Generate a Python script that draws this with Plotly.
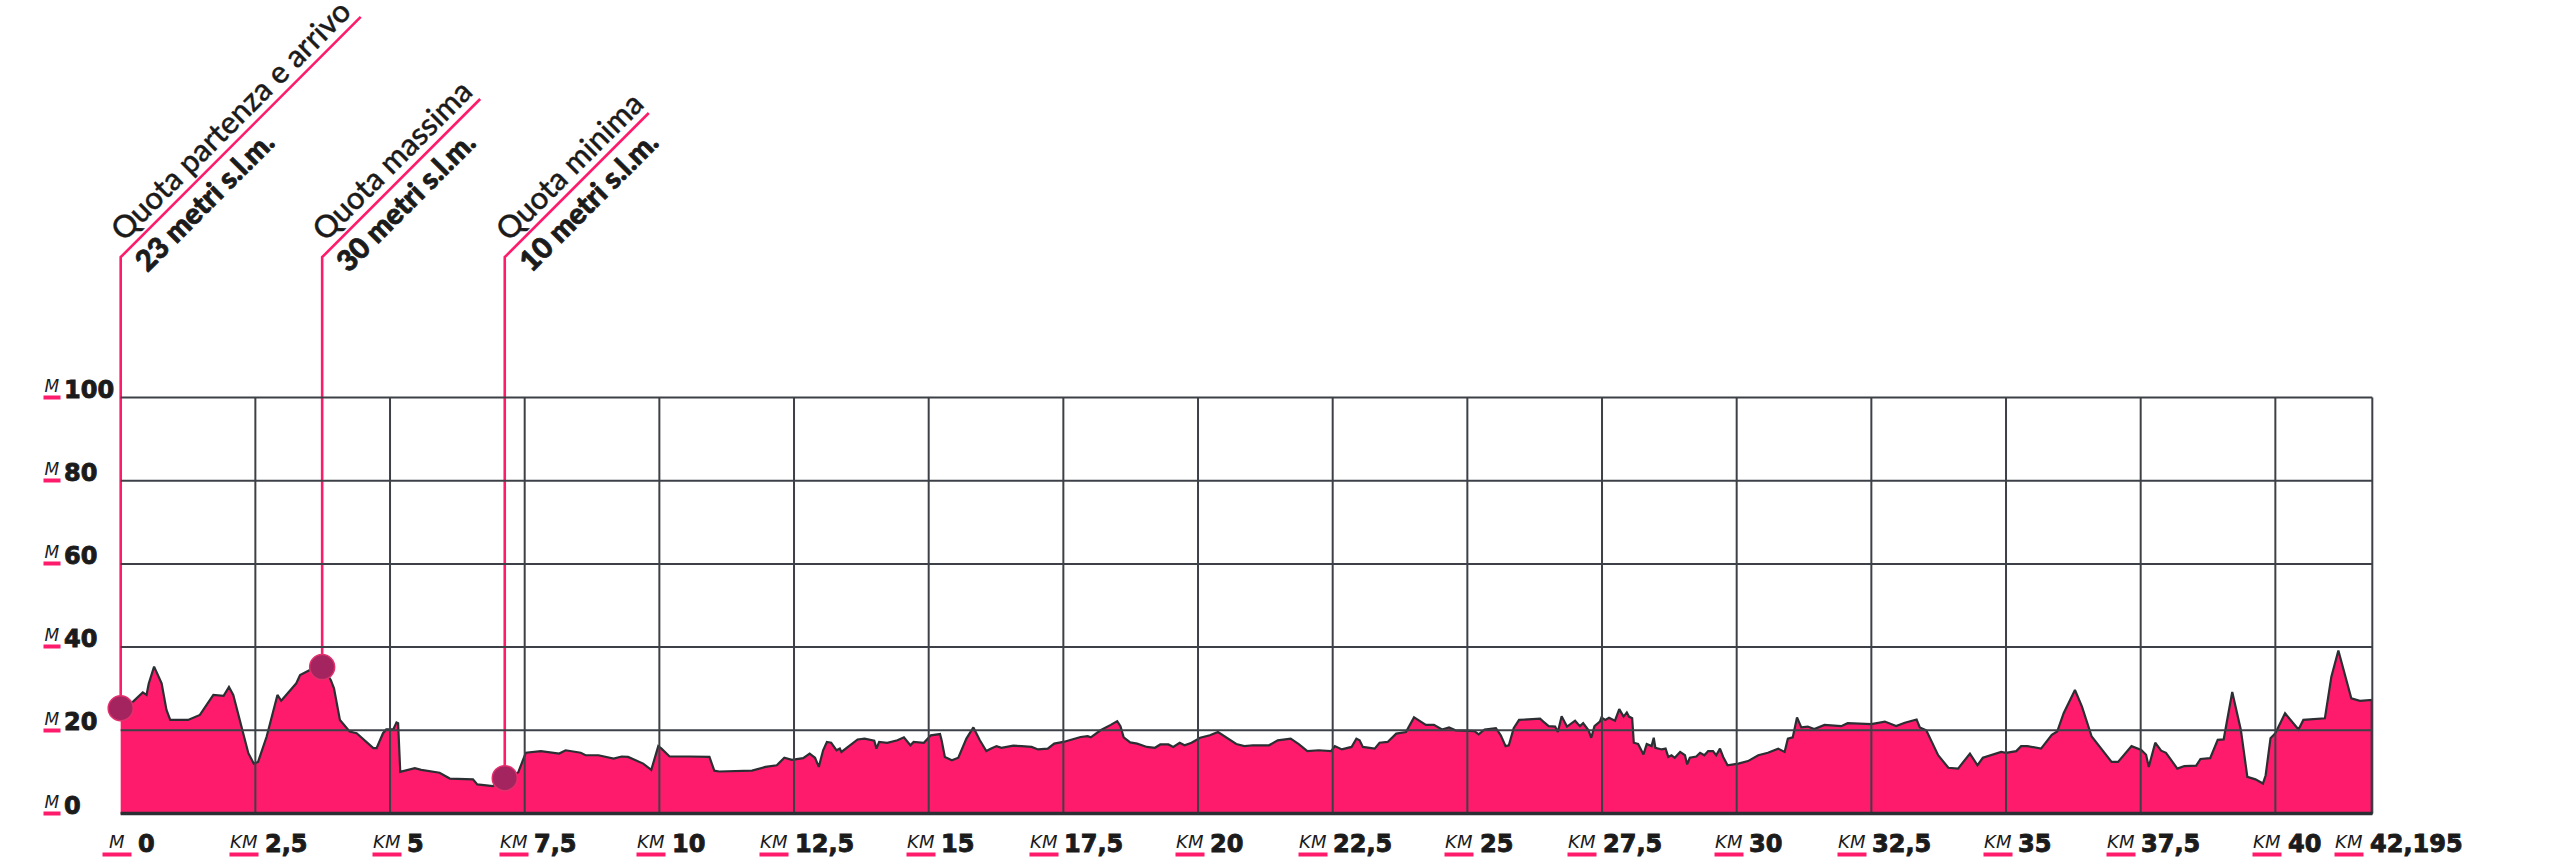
import plotly.graph_objects as go

# ---------------- data ----------------
KM = [0.00, 0.23, 0.41, 0.48, 0.52, 0.62, 0.76, 0.85, 0.92, 1.25, 1.47, 1.72, 1.91, 2.01, 2.09, 2.21,
      2.37, 2.47, 2.55, 2.71, 2.91, 2.98, 3.26, 3.33, 3.51, 3.74, 3.90, 3.96, 4.07, 4.25, 4.38, 4.69,
      4.75, 4.87, 4.93, 5.06, 5.12, 5.15, 5.19, 5.46, 5.58, 5.92, 6.11, 6.54, 6.62, 6.91, 7.14, 7.38,
      7.52, 7.80, 8.14, 8.26, 8.54, 8.63, 8.87, 9.15, 9.30, 9.42, 9.70, 9.85, 9.94, 9.98, 10.04, 10.19,
      10.56, 10.93, 11.02, 11.11, 11.72, 11.97, 12.18, 12.32, 12.46, 12.67, 12.79, 12.89, 12.96, 13.04,
      13.11, 13.19, 13.29, 13.35, 13.38, 13.50, 13.68, 13.81, 13.99, 14.03, 14.08, 14.23, 14.42, 14.54,
      14.66, 14.72, 14.91, 15.04, 15.21, 15.24, 15.30, 15.43, 15.55, 15.70, 15.83, 15.95, 16.07, 16.16,
      16.26, 16.35, 16.57, 16.72, 16.91, 17.03, 17.21, 17.33, 17.50, 17.82, 17.95, 18.01, 18.10, 18.19,
      18.38, 18.50, 18.56, 18.62, 18.74, 18.87, 19.05, 19.20, 19.30, 19.45, 19.54, 19.66, 19.75, 19.88,
      20.04, 20.22, 20.37, 20.52, 20.71, 20.86, 21.02, 21.32, 21.48, 21.72, 21.87, 22.03, 22.24, 22.47,
      22.54, 22.67, 22.85, 22.94, 23.00, 23.06, 23.28, 23.37, 23.52, 23.68, 23.86, 24.01, 24.23, 24.38,
      24.53, 24.66, 24.78, 25.13, 25.21, 25.32, 25.53, 25.62, 25.71, 25.77, 25.86, 25.96, 26.35, 26.41,
      26.51, 26.63, 26.68, 26.75, 26.85, 27.00, 27.09, 27.15, 27.25, 27.30, 27.36, 27.46, 27.49, 27.56,
      27.63, 27.74, 27.82, 27.90, 27.96, 28.00, 28.06, 28.09, 28.17, 28.27, 28.33, 28.42, 28.46, 28.49,
      28.61, 28.68, 28.73, 28.79, 28.85, 28.95, 29.04, 29.08, 29.13, 29.25, 29.32, 29.40, 29.47, 29.56,
      29.62, 29.69, 29.75, 29.83, 30.03, 30.21, 30.40, 30.58, 30.77, 30.89, 30.95, 31.04, 31.12, 31.20,
      31.32, 31.44, 31.63, 31.94, 32.06, 32.50, 32.75, 32.96, 33.12, 33.34, 33.40, 33.52, 33.74, 33.93,
      34.11, 34.33, 34.47, 34.57, 34.91, 35.00, 35.19, 35.28, 35.40, 35.65, 35.85, 35.95, 36.07, 36.28,
      36.41, 36.59, 36.78, 36.96, 37.08, 37.33, 37.51, 37.60, 37.65, 37.77, 37.88, 37.97, 38.18, 38.31,
      38.53, 38.61, 38.79, 38.93, 39.04, 39.20, 39.36, 39.48, 39.63, 39.77, 39.82, 39.91, 40.00, 40.18,
      40.43, 40.52, 40.92, 41.04, 41.17, 41.35, 41.41, 41.57, 41.79]
ELEV = [25.0, 26.9, 29.1, 28.5, 31.2, 35.3, 31.3, 24.9, 22.5, 22.5, 23.7, 28.5, 28.3, 30.4, 28.5, 22.5,
        14.5, 12.0, 12.4, 18.5, 28.5, 27.1, 31.3, 33.3, 34.5, 35.2, 32.1, 30.1, 22.5, 19.7, 19.3, 15.7,
        15.7, 19.3, 20.2, 20.2, 21.9, 21.7, 10.0, 10.9, 10.5, 9.8, 8.4, 8.2, 7.0, 6.6, 8.0, 9.9,
        14.6, 15.0, 14.4, 15.2, 14.6, 14.0, 14.0, 13.2, 13.7, 13.6, 12.0, 10.5, 14.8, 16.2, 15.6, 13.7,
        13.7, 13.6, 10.3, 10.1, 10.3, 11.2, 11.6, 13.4, 12.9, 13.3, 14.4, 13.4, 11.2, 15.2,
        17.2, 17.0, 15.2, 15.6, 14.8, 16.0, 17.8, 18.0, 17.5, 15.6, 17.2, 17.0, 17.6, 18.3,
        16.4, 17.2, 17.0, 18.8, 19.1, 17.6, 13.6, 12.8, 13.4, 18.0, 20.7, 17.6, 15.0, 15.6,
        16.2, 15.8, 16.3, 16.2, 16.0, 15.4, 15.6, 16.8, 17.2, 18.4, 18.6, 18.3, 19.1, 20.0,
        21.3, 22.2, 21.0, 18.3, 17.1, 16.8, 16.0, 15.8, 16.6, 16.6, 16.0, 17.0, 16.4, 17.0,
        18.2, 18.8, 19.6, 18.3, 16.7, 16.2, 16.4, 16.4, 17.6, 18.0, 16.7, 15.0, 15.2, 15.0,
        16.2, 15.4, 16.0, 18.0, 17.6, 16.0, 15.6, 17.0, 17.2, 19.2, 19.6, 23.1, 21.3, 21.3,
        20.2, 20.7, 20.0, 19.8, 19.0, 20.2, 20.5, 18.8, 16.2, 16.4, 20.5, 22.5, 22.8, 22.1,
        21.0, 20.9, 19.6, 23.4, 20.9, 22.3, 21.0, 21.7, 20.0, 18.2, 21.0, 22.1, 23.1, 22.5,
        23.0, 22.3, 25.1, 23.3, 24.3, 23.3, 22.9, 17.0, 16.7, 14.2, 16.7, 16.2, 18.2, 15.8,
        15.4, 15.6, 13.6, 14.0, 13.4, 14.8, 14.0, 11.8, 13.4, 13.7, 14.6, 14.0, 15.0, 15.0,
        14.0, 15.6, 13.6, 11.6, 12.0, 12.6, 14.0, 14.6, 15.6, 14.8, 18.0, 18.3, 23.1, 20.7,
        20.9, 20.3, 21.3, 21.0, 21.7, 21.5, 22.1, 21.0, 21.8, 22.6, 20.7, 20.0, 14.0, 11.0,
        10.8, 14.4, 11.6, 13.4, 14.8, 14.6, 15.0, 16.2, 16.2, 15.6, 18.9, 19.7, 24.1, 29.7,
        25.7, 18.5, 15.3, 12.4, 12.4, 16.2, 15.3, 14.1, 11.2, 17.0, 15.1, 14.6, 10.8, 11.4,
        11.5, 13.1, 13.3, 17.7, 17.8, 29.2, 20.1, 8.8, 8.2, 7.2, 9.2, 18.1, 19.3, 24.1,
        20.2, 22.5, 22.9, 32.9, 39.2, 30.1, 27.7, 27.1, 27.3]

DOT_KM = [0.0, 3.74, 7.13]
DOT_ELEV = [25.3, 35.2, 8.5]
CALLOUT_TITLE = ["Quota partenza e arrivo", "Quota massima", "Quota minima"]
CALLOUT_VALUE = ["23 metri s.l.m.", "30 metri s.l.m.", "10 metri s.l.m."]

X_TICKS = [0, 2.5, 5, 7.5, 10, 12.5, 15, 17.5, 20, 22.5, 25, 27.5, 30, 32.5, 35, 37.5, 40, 41.8]
X_TICK_TEXT = ["0", "2,5", "5", "7,5", "10", "12,5", "15", "17,5", "20", "22,5", "25", "27,5",
               "30", "32,5", "35", "37,5", "40", "42,195"]
X_TICK_UNIT = ["M"] + ["KM"] * 17
Y_TICKS = [0, 20, 40, 60, 80, 100]
Y_TICK_TEXT = ["0", "20", "40", "60", "80", "100"]
Y_TICK_UNIT = "M"

# ---------------- style / layout ----------------
W, H = 2560, 864
PINK = "#ff1b6b"
DOT = "#a3245f"
DARK = "#2b2f33"
GRID = "#3d4147"
TXT = "#1b1b1b"
NUMFONT = "DejaVu Sans"
UNITFONT = "DejaVu Sans"
CALLFONT = "Lato"
NUMSIZE = 24
UNITSIZE_Y = 17
UNITSIZE_X = 18
DESC_NUM = 0.236 * NUMSIZE


def heavy(s, w):
    return f'<span style="stroke:{TXT};stroke-width:{w}px">{s}</span>'


X_END = X_TICKS[-1]
Y_END = Y_TICKS[-1]
PL, PR = 121.0, 2372.3      # pixel of x=0 / x=end
PB, PT = 813.3, 397.7       # pixel of y=0 / y=100
PADX, PADY = 0.05, 0.6
sx = (PR - PL) / X_END
sy = (PB - PT) / Y_END
ml = PL - PADX * sx
mr = W - (PR + PADX * sx)
mt = PT - PADY * sy
mb = H - (PB + PADY * sy)
pw = W - ml - mr
ph = H - mt - mb
xr = [-PADX, X_END + PADX]
yr = [-PADY, Y_END + PADY]


def xpap(v):
    return (v - xr[0]) / (xr[1] - xr[0])


def ypap(v):
    return (v - yr[0]) / (yr[1] - yr[0])


def ypix2pap(py):
    return ((H - mb) - py) / ph


fig = go.Figure()

# profile (closed polygon down to 0)
fig.add_trace(go.Scatter(
    x=KM + [KM[-1], KM[0]], y=ELEV + [0, 0],
    mode="lines", fill="toself", fillcolor=PINK,
    line=dict(color=DARK, width=2.2), hoverinfo="skip", showlegend=False))

# dots
fig.add_trace(go.Scatter(
    x=DOT_KM, y=DOT_ELEV, mode="markers",
    marker=dict(size=25, color=DOT, line=dict(color="#e2306d", width=1.5)),
    cliponaxis=False, hoverinfo="skip", showlegend=False))

shapes = []
for t in X_TICKS[1:]:
    shapes.append(dict(type="line", xref="x", yref="y", x0=t, x1=t, y0=0, y1=Y_END,
                       line=dict(color=GRID, width=2), layer="above"))
for v in Y_TICKS[1:]:
    shapes.append(dict(type="line", xref="x", yref="y", x0=0, x1=X_END, y0=v, y1=v,
                       line=dict(color=GRID, width=2), layer="above"))
shapes.append(dict(type="line", xref="x", yref="y", x0=0, x1=X_END, y0=0, y1=0,
                   line=dict(color=DARK, width=3.5), layer="above"))

# callouts
CORNER_PY = 257.5
DIAG = [240, 158, 144]
T1, T2 = 31, 29                      # title / value font sizes (Lato)
CAP, DESC, LH = 0.7165, 0.213, 1.2   # Lato metrics
R2 = 0.7071
yc = ypix2pap(CORNER_PY)
s1x, s1y = -13.7 + CAP * T1 * R2, -13.2      # baseline start of title, rel. to corner
s2x, s2y = 10.7 + CAP * T2 * R2, 17.5        # baseline start of value, rel. to corner
t1_xs = s1x + DESC * T1 * R2 - LH * T1 * R2
t1_ys = -(s1y + DESC * T1 * R2)
t2_xs = s2x + DESC * T2 * R2 - LH * T2 * R2
t2_ys = -(s2y + DESC * T2 * R2)
annotations = []
for i in range(len(DOT_KM)):
    xd = xpap(DOT_KM[i])
    yd = ypap(DOT_ELEV[i])
    d = DIAG[i]
    path = f"M {xd},{yd} L {xd},{yc} L {xd + d / pw},{yc + d / ph}"
    shapes.append(dict(type="path", xref="paper", yref="paper", path=path,
                       line=dict(color=PINK, width=2.6), layer="between"))
    annotations.append(dict(
        xref="paper", yref="paper", x=xd, y=yc, text=heavy(CALLOUT_TITLE[i], 0.35),
        showarrow=False, textangle=-45, xanchor="left", yanchor="bottom",
        xshift=t1_xs, yshift=t1_ys, borderpad=0,
        font=dict(family=CALLFONT, size=T1, color=TXT, weight=500)))
    annotations.append(dict(
        xref="paper", yref="paper", x=xd, y=yc, text=heavy(CALLOUT_VALUE[i], 0.8),
        showarrow=False, textangle=-45, xanchor="left", yanchor="bottom",
        xshift=t2_xs, yshift=t2_ys, borderpad=0,
        font=dict(family=CALLFONT, size=T2, color=TXT, weight=900)))

# y tick labels
for v, txt in zip(Y_TICKS, Y_TICK_TEXT):
    annotations.append(dict(x=0, y=v, xref="x", yref="y", text=Y_TICK_UNIT, showarrow=False,
                            xanchor="left", yanchor="bottom", xshift=43.3 - PL, yshift=0.8,
                            width=16, align="center", borderpad=0,
                            font=dict(family=UNITFONT, size=UNITSIZE_Y, color=TXT, style="italic")))
    annotations.append(dict(x=0, y=v, xref="x", yref="y", text=" ", showarrow=False,
                            xanchor="left", yanchor="middle", xshift=43.3 - PL, yshift=0.3,
                            width=16, height=3, bgcolor=PINK, borderpad=0, font=dict(size=1)))
    annotations.append(dict(x=0, y=v, xref="x", yref="y", text=heavy(txt, 0.9), showarrow=False,
                            xanchor="left", yanchor="bottom", xshift=63 - PL,
                            yshift=-(1.5 + DESC_NUM), borderpad=0,
                            font=dict(family=NUMFONT, size=NUMSIZE, color=TXT, weight=700)))

# x tick labels
for t, txt, unit in zip(X_TICKS, X_TICK_TEXT, X_TICK_UNIT):
    w_est = 16.5 * sum(c.isdigit() for c in txt) + 6 * txt.count(",")
    n = min(16, max(-3.5, 28.8 - 0.525 * w_est))
    annotations.append(dict(x=t, y=0, xref="x", yref="y", text=heavy(txt, 0.9), showarrow=False,
                            xanchor="left", yanchor="bottom", xshift=n,
                            yshift=-(39.7 + DESC_NUM), borderpad=0,
                            font=dict(family=NUMFONT, size=NUMSIZE, color=TXT, weight=700)))
    annotations.append(dict(x=t, y=0, xref="x", yref="y", text=unit, showarrow=False,
                            xanchor="right", yanchor="bottom", xshift=n - 4.5,
                            yshift=-(35.7 + 0.236 * UNITSIZE_X),
                            width=28, align="center", borderpad=0,
                            font=dict(family=UNITFONT, size=UNITSIZE_X, color=TXT, style="italic")))
    annotations.append(dict(x=t, y=0, xref="x", yref="y", text=" ", showarrow=False,
                            xanchor="right", yanchor="middle", xshift=n - 4.5, yshift=-40.5,
                            width=28, height=3, bgcolor=PINK, borderpad=0, font=dict(size=1)))

fig.update_layout(
    width=W, height=H,
    margin=dict(l=ml, r=mr, t=mt, b=mb, pad=0),
    paper_bgcolor="white", plot_bgcolor="white",
    xaxis=dict(range=xr, showgrid=False, zeroline=False, showline=False, showticklabels=False,
               ticks="", fixedrange=True),
    yaxis=dict(range=yr, showgrid=False, zeroline=False, showline=False, showticklabels=False,
               ticks="", fixedrange=True),
    shapes=shapes, annotations=annotations,
    hovermode=False, showlegend=False,
)

fig.write_html("out.html", config={"displayModeBar": False},
               post_script="document.body.style.margin='0';document.body.style.overflow='hidden';")
